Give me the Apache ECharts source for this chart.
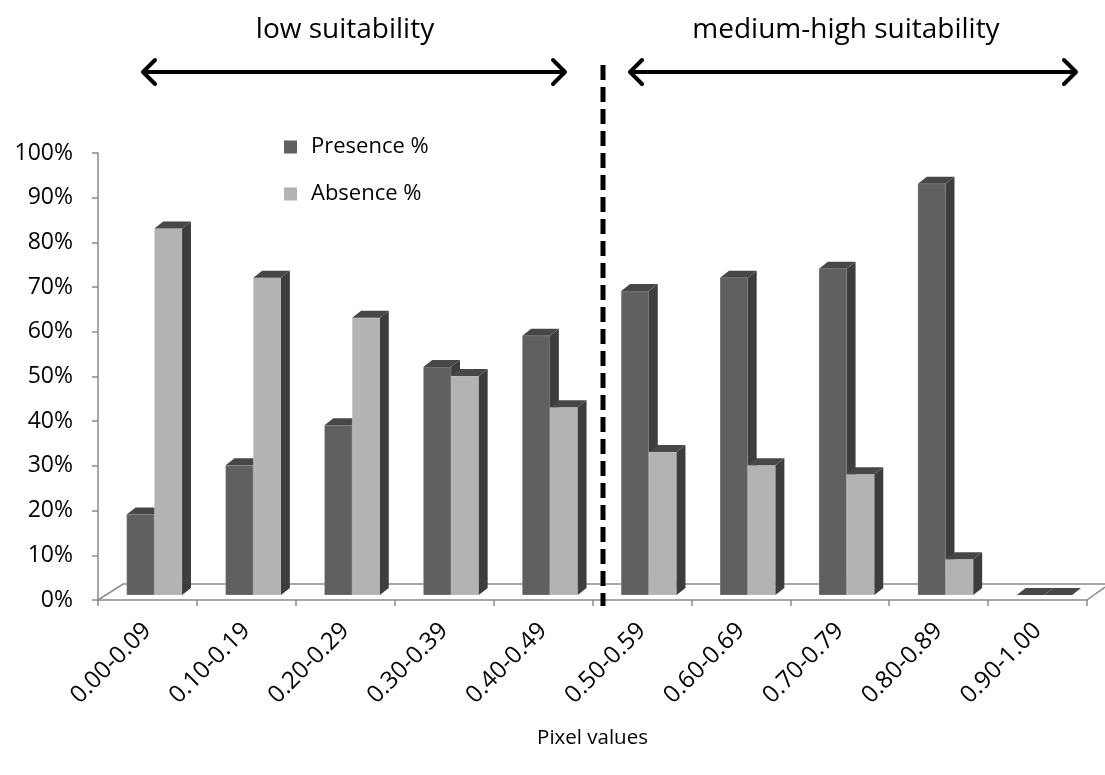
<!DOCTYPE html>
<html>
<head>
<meta charset="utf-8">
<script src="https://cdn.jsdelivr.net/npm/echarts@6/dist/echarts.min.js"></script>
<style>
html,body{margin:0;padding:0;background:#fff;}
#chart{width:1105px;height:775px;}
</style>
</head>
<body>
<div id="chart"></div>
<script>
const categories = ['0.00-0.09','0.10-0.19','0.20-0.29','0.30-0.39','0.40-0.49','0.50-0.59','0.60-0.69','0.70-0.79','0.80-0.89','0.90-1.00'];
const presence = [18, 29, 38, 51, 58, 68, 71, 73, 92, 0];
const absence  = [82, 71, 62, 49, 42, 32, 29, 27, 8, 0];
const yTicks = [0, 10, 20, 30, 40, 50, 60, 70, 80, 90, 100];

const FONT = '"Open Sans", "Noto Sans", sans-serif';
const DARK = '#606060', LIGHT = '#b3b3b3', SIDE = '#3d3d3d', TOP = '#474747';

function makeRender(slot, frontColor) {
  return function (params, api) {
    const i = api.value(0), v = api.value(1);
    const top = api.coord([i, v]);
    const base = api.coord([i, 0]);
    const bw = api.size([1, 0])[0];
    const cx = top[0];
    const w = 0.28 * bw;
    const x0 = cx - 0.21 * bw + slot * w;
    const x1 = x0 + w;
    const yb = base[1] - 5, yt = top[1] - 5;
    const dx = 0.09 * bw, dy = 7;
    return {
      type: 'group',
      children: [
        { type: 'rect', shape: { x: x0, y: yt, width: w, height: yb - yt },
          style: { fill: frontColor, stroke: 'rgba(255,255,255,0.25)', lineWidth: 0.8 } },
        { type: 'polygon', shape: { points: [[x1, yb], [x1 + dx, yb - dy], [x1 + dx, yt - dy], [x1, yt]] },
          style: { fill: SIDE } },
        { type: 'polygon', shape: { points: [[x0, yt], [x0 + dx, yt - dy], [x1 + dx, yt - dy], [x1, yt]] },
          style: { fill: TOP } }
      ]
    };
  };
}

const chart = echarts.init(document.getElementById('chart'), null, { renderer: 'canvas' });

function arrow(x1, x2, y) {
  const h = 12;
  return [
    { type: 'polyline', z: 20, shape: { points: [[x1 + 2, y], [x2 - 2, y]] },
      style: { stroke: '#000', lineWidth: 4, fill: null } },
    { type: 'polyline', z: 20, shape: { points: [[x1 + h, y - h], [x1, y], [x1 + h, y + h]] },
      style: { stroke: '#000', lineWidth: 4, fill: null, lineCap: 'round', lineJoin: 'round' } },
    { type: 'polyline', z: 20, shape: { points: [[x2 - h, y - h], [x2, y], [x2 - h, y + h]] },
      style: { stroke: '#000', lineWidth: 4, fill: null, lineCap: 'round', lineJoin: 'round' } }
  ];
}

chart.setOption({
  animation: false,
  backgroundColor: '#fff',
  textStyle: { fontFamily: FONT },
  grid: { left: 98, right: 18, top: 153, bottom: 175, containLabel: false },
  legend: {
    orient: 'vertical',
    left: 279,
    top: 131,
    itemGap: 25,
    itemWidth: 13,
    itemHeight: 13,
    icon: 'rect',
    textStyle: { fontFamily: FONT, fontSize: 22, color: '#000', padding: [0, 0, 0, 9] },
    data: [
      { name: 'Presence %', itemStyle: { color: DARK } },
      { name: 'Absence %', itemStyle: { color: LIGHT } }
    ]
  },
  xAxis: {
    type: 'category',
    data: categories,
    boundaryGap: true,
    name: 'Pixel values',
    nameLocation: 'middle',
    nameGap: 128,
    nameTextStyle: { fontFamily: FONT, fontSize: 20.5, color: '#000' },
    axisLine: { show: true, lineStyle: { color: '#8a8a8a', width: 1.5 } },
    axisTick: { show: true, length: 6, lineStyle: { color: '#8a8a8a', width: 1.5 } },
    axisLabel: { rotate: 45, margin: 27, fontFamily: FONT, fontSize: 24, color: '#000', interval: 0 },
    splitLine: { show: false }
  },
  yAxis: {
    type: 'value',
    min: 0,
    max: 100,
    interval: 10,
    axisLine: { show: true, lineStyle: { color: '#8a8a8a', width: 1.5 } },
    axisTick: { show: true, length: 6, lineStyle: { color: '#8a8a8a', width: 1.5 } },
    axisLabel: {
      margin: 25, fontFamily: FONT, fontSize: 23, color: '#000',
      formatter: function (v) { return yTicks.indexOf(v) >= 0 ? v + '%' : ''; }
    },
    splitLine: { show: false }
  },
  series: [
    {
      name: 'Presence %',
      type: 'custom',
      itemStyle: { color: DARK },
      renderItem: makeRender(0, DARK),
      encode: { x: 0, y: 1 },
      data: presence.map((v, i) => [i, v]),
      z: 5
    },
    {
      name: 'Absence %',
      type: 'custom',
      itemStyle: { color: LIGHT },
      renderItem: makeRender(1, LIGHT),
      encode: { x: 0, y: 1 },
      data: absence.map((v, i) => [i, v]),
      z: 6
    }
  ],
  graphic: [
    // floor (back edge and sides)
    { type: 'polyline', z: 1, shape: { points: [[98, 600], [123, 584], [1105, 584]] },
      style: { stroke: '#8a8a8a', lineWidth: 1.5, fill: null } },
    { type: 'polyline', z: 1, shape: { points: [[1087, 600], [1105, 587]] },
      style: { stroke: '#8a8a8a', lineWidth: 1.5, fill: null } },
    // dashed divider
    { type: 'line', z: 20, shape: { x1: 603, y1: 65, x2: 603, y2: 606 },
      style: { stroke: '#000', lineWidth: 5, lineDash: [15, 7] } },
    // annotations
    { type: 'text', z: 20, style: { x: 345, y: 30, text: 'low suitability', fontFamily: FONT, fontSize: 28, fill: '#000', align: 'center', verticalAlign: 'middle' } },
    { type: 'text', z: 20, style: { x: 846, y: 30, text: 'medium-high suitability', fontFamily: FONT, fontSize: 28, fill: '#000', align: 'center', verticalAlign: 'middle' } }
  ].concat(arrow(143, 565, 72), arrow(630, 1076, 72))
});
</script>
</body>
</html>
